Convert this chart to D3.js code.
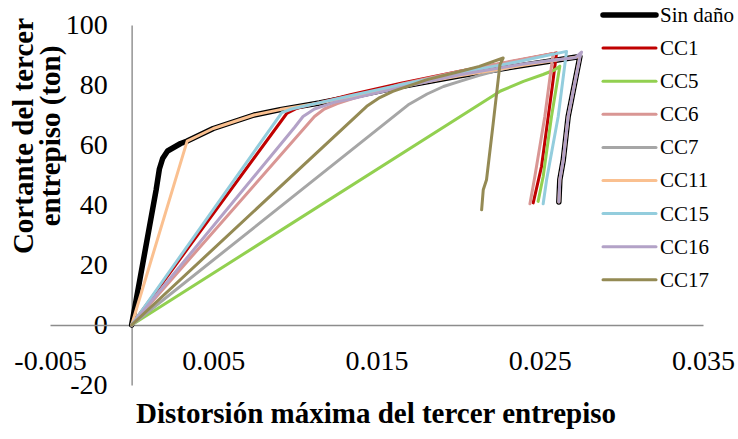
<!DOCTYPE html>
<html>
<head>
<meta charset="utf-8">
<script src="https://cdn.jsdelivr.net/npm/d3@7"></script>
<style>
  html, body { margin: 0; padding: 0; background: #fff; }
  svg { display: block; font-family: "Liberation Serif", "Times New Roman", serif; }
</style>
</head>
<body>
<svg id="chart" width="738" height="439"></svg>
<script>
// ---- Data (distortion, shear in ton) ----
const seriesNames = ["Sin daño", "CC1", "CC5", "CC6", "CC7", "CC11", "CC15", "CC16", "CC17"];
const seriesColors = ["#000000", "#C00000", "#92D050", "#D99694", "#A6A6A6", "#FAC090", "#93CDDD", "#B3A2C7", "#948A54"];

const sinDano = [[0,0],[0.0008,24],[0.0015,45],[0.0017,52],[0.0019,55.5],[0.0022,58],[0.0030,60.5],[0.0034,61.3],[0.0050,65.5],[0.0075,70],[0.0091,71.8],[0.0115,74],[0.0134,76],[0.0165,79.5],[0.0201,83.1],[0.0240,86.6],[0.02746,89.5],[0.02694,75],[0.02674,69.5],[0.02644,55],[0.02623,48.4],[0.02617,41]];
const cc1 = [[0,0],[0.0095,70.5],[0.0101,72.2],[0.0134,76.8],[0.0165,80.6],[0.0201,84.6],[0.0235,88],[0.02603,90.7],[0.02578,80],[0.02552,69.5],[0.02511,52.9],[0.0246,40.7]];
const cc5 = [[0,0],[0.0226,78],[0.0240,81.2],[0.0252,83.5],[0.0259,85],[0.02623,86.3],[0.02572,69.5],[0.02521,49.5],[0.0249,41.2]];
const cc6 = [[0,0],[0.0112,69.5],[0.0118,72],[0.0126,73.8],[0.0134,75.2],[0.0165,80.3],[0.0201,84.6],[0.0235,88.2],[0.02582,90.5],[0.02531,69.5],[0.0247,49.5],[0.0244,40.4]];
const cc7 = [[0,0],[0.0170,73.6],[0.0181,77],[0.0191,79.5],[0.0201,81.2],[0.0213,83.2],[0.0225,85],[0.0240,86.8],[0.0262,88.6]];
const cc11 = [[0,0],[0.0034,61.3],[0.0050,65.5],[0.0075,70],[0.0091,71.8],[0.0115,74],[0.0134,76],[0.0165,79.5],[0.0201,83.1],[0.0240,86.6],[0.02746,89.5],[0.02694,75],[0.02674,69.5],[0.02644,55],[0.02623,48.4],[0.02617,41]];
const cc15 = [[0,0],[0.0092,70.8],[0.0098,72],[0.0134,76.4],[0.0165,80.1],[0.0201,84.1],[0.0235,87.6],[0.02664,91.2],[0.02613,69.5],[0.02542,48.4],[0.02521,40.4]];
const cc16 = [[0,0],[0.0100,66],[0.0105,69.5],[0.0112,72],[0.0124,74.2],[0.0134,75.3],[0.0165,79.2],[0.0201,83.4],[0.0240,87],[0.0272,89.2],[0.02756,91],[0.02746,89.3],[0.02694,75],[0.02674,69.5],[0.02644,55],[0.02623,48.4],[0.02617,41]];
const cc17 = [[0,0],[0.0144,72.9],[0.0152,75.8],[0.0160,77.9],[0.0181,81.8],[0.0201,84.5],[0.0213,86.2],[0.02276,89],[0.02256,86.8],[0.02215,67.3],[0.02174,48.4],[0.02154,45.1],[0.02144,38.4]];
const seriesData = [sinDano, cc1, cc5, cc6, cc7, cc11, cc15, cc16, cc17];

const xTicks = [-0.005, 0.005, 0.015, 0.025, 0.035];
const yTicks = [-20, 0, 20, 40, 60, 80, 100];

// ---- Layout ----
const FONT = "Liberation Serif, Times New Roman, serif";
const svg = d3.select("#chart");
const x = d3.scaleLinear().domain([-0.005, 0.035]).range([50, 703]);
const y = d3.scaleLinear().domain([-20, 100]).range([385, 25]);

// Axes
const yAxis = svg.append("g")
  .attr("transform", `translate(${x(0)},0)`)
  .call(d3.axisLeft(y).tickValues(yTicks).tickSize(0).tickPadding(24).tickFormat(d => String(d)));
const xAxis = svg.append("g")
  .attr("transform", `translate(0,${y(0)})`)
  .call(d3.axisBottom(x).tickValues(xTicks).tickSize(0).tickPadding(25).tickFormat(d => d.toFixed(3)));
[yAxis, xAxis].forEach(g => {
  g.attr("font-family", FONT);
  g.select(".domain").attr("stroke", "#8c8c8c").attr("stroke-width", 1.4);
  g.selectAll("text").attr("font-family", FONT).attr("font-size", 28).attr("fill", "#000");
});

// Lines
const line = d3.line().x(d => x(d[0])).y(d => y(d[1])).curve(d3.curveLinear);
seriesData.forEach((data, i) => {
  svg.append("path")
    .datum(data)
    .attr("d", line)
    .attr("fill", "none")
    .attr("stroke", seriesColors[i])
    .attr("stroke-width", i === 0 ? 5.5 : 3)
    .attr("stroke-linejoin", "round")
    .attr("stroke-linecap", "round");
});

// Legend
const legend = svg.append("g").attr("font-family", FONT);
seriesNames.forEach((name, i) => {
  const yy = 15 + i * 33.1;
  legend.append("line")
    .attr("x1", 603).attr("x2", 656).attr("y1", yy).attr("y2", yy)
    .attr("stroke", seriesColors[i])
    .attr("stroke-width", i === 0 ? 5.5 : 3)
    .attr("stroke-linecap", "round");
  legend.append("text")
    .attr("x", 660).attr("y", yy).attr("dy", "0.33em")
    .attr("font-family", FONT)
    .attr("font-size", 21).attr("fill", "#000")
    .text(name);
});

// Axis titles
svg.append("text")
  .attr("x", 376).attr("y", 423)
  .attr("text-anchor", "middle")
  .attr("font-family", FONT)
  .attr("font-size", 29).attr("font-weight", "bold")
  .text("Distorsión máxima del tercer entrepiso");

const yTitle = svg.append("text")
  .attr("transform", "translate(0,136) rotate(-90)")
  .attr("text-anchor", "middle")
  .attr("font-family", FONT)
  .attr("font-size", 29).attr("font-weight", "bold");
yTitle.append("tspan").attr("x", 0).attr("y", 33).text("Cortante del tercer");
yTitle.append("tspan").attr("x", 0).attr("y", 60).text("entrepiso (ton)");
</script>
</body>
</html>
